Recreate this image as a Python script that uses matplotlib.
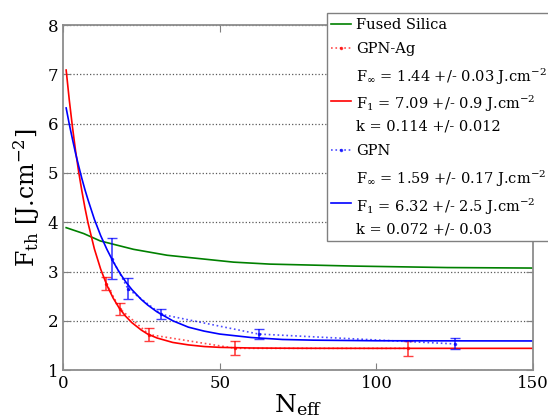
import numpy as np
import matplotlib
matplotlib.use("Agg")
from matplotlib import pyplot as plt

# measured points (N_eff, F_th, error)
ag_n = [13.8, 18.2, 27.5, 55.0, 110.0]
ag_f = [2.75, 2.24, 1.72, 1.44, 1.44]
ag_err = [0.13, 0.13, 0.13, 0.14, 0.15]

gpn_n = [15.6, 20.7, 31.4, 62.4, 125.0]
gpn_f = [3.26, 2.65, 2.13, 1.73, 1.53]
gpn_err = [0.41, 0.21, 0.10, 0.10, 0.11]

# fit curves
fit_n = [1, 2, 3, 4, 5, 6, 7, 8, 10, 12, 14, 16, 18, 20, 22, 25, 27, 30, 35, 40,
         45, 50, 60, 70, 80, 100, 150]
ag_fit = [7.09, 6.48, 5.94, 5.45, 5.02, 4.64, 4.29, 3.98, 3.46, 3.05, 2.72, 2.46,
          2.25, 2.09, 1.96, 1.81, 1.73, 1.65, 1.56, 1.51, 1.477, 1.46, 1.447,
          1.443, 1.441, 1.44, 1.44]
gpn_fit = [6.32, 5.99, 5.69, 5.40, 5.14, 4.89, 4.66, 4.45, 4.06, 3.73, 3.45, 3.20,
           2.98, 2.79, 2.63, 2.43, 2.32, 2.18, 2.00, 1.87, 1.79, 1.73, 1.66, 1.62,
           1.606, 1.594, 1.59]

silica_n = [1, 6.6, 11.9, 22.5, 33.2, 43.8, 54.4, 66, 92.8, 122.6, 150]
silica_f = [3.89, 3.77, 3.62, 3.45, 3.33, 3.26, 3.19, 3.15, 3.11, 3.08, 3.07]

ag_lbl = ("F$_{\\infty}$ = 1.44 +/- 0.03 J.cm$^{-2}$\n"
          "F$_{1}$ = 7.09 +/- 0.9 J.cm$^{-2}$\n"
          "k = 0.114 +/- 0.012")
gpn_lbl = ("F$_{\\infty}$ = 1.59 +/- 0.17 J.cm$^{-2}$\n"
           "F$_{1}$ = 6.32 +/- 2.5 J.cm$^{-2}$\n"
           "k = 0.072 +/- 0.03")

plt.rcParams['font.family'] = 'DejaVu Serif'
plt.rcParams['mathtext.fontset'] = 'dejavuserif'

fig = plt.figure(figsize=(5.48, 4.2), dpi=100)
ax = fig.add_axes([0.115, 0.119, 0.858, 0.821])

h1, = ax.plot(silica_n, silica_f, color='green', lw=1.2, label='Fused Silica')

h2, = ax.plot(ag_n, ag_f, color='red', ls=':', marker='.', ms=3, lw=1.2,
              alpha=0.7, label='GPN-Ag')
ax.errorbar(ag_n, ag_f, yerr=ag_err, color='red', ls='none', capsize=3.5,
            elinewidth=1.2, alpha=0.75)
h3, = ax.plot(fit_n, ag_fit, color='red', lw=1.2, label=ag_lbl)

h4, = ax.plot(gpn_n, gpn_f, color='blue', ls=':', marker='.', ms=3, lw=1.2,
              alpha=0.7, label='GPN')
ax.errorbar(gpn_n, gpn_f, yerr=gpn_err, color='blue', ls='none', capsize=3.5,
            elinewidth=1.2, alpha=0.75)
h5, = ax.plot(fit_n, gpn_fit, color='blue', lw=1.2, label=gpn_lbl)

ax.set_xlim(0, 150)
ax.set_ylim(1, 8)
ax.set_xticks([0, 50, 100, 150])
ax.set_yticks([1, 2, 3, 4, 5, 6, 7, 8])
ax.yaxis.grid(True, ls=':', color='0.35', lw=0.9)
ax.tick_params(direction='in', top=True, right=True, color='0.5', labelsize=12, length=5)
for s in ax.spines.values():
    s.set_color('0.55')
    s.set_linewidth(1.3)

ax.set_xlabel('N$_{\\mathrm{eff}}$', fontsize=18, labelpad=0)
ax.set_ylabel('F$_{\\mathrm{th}}$ [J.cm$^{-2}$]', fontsize=17, labelpad=4)

leg = ax.legend(handles=[h1, h2, h3, h4, h5], loc='upper left',
                bbox_to_anchor=(0.596, 0.968), bbox_transform=fig.transFigure,
                borderaxespad=0, fontsize=10.5, handlelength=1.4,
                handletextpad=0.3, borderpad=0.3, labelspacing=0.7,
                fancybox=False, framealpha=1, edgecolor='0.5')
leg.get_frame().set_linewidth(1.0)
for t in leg.get_texts():
    t.set_linespacing(1.5)

plt.savefig('out.png', dpi=100)
